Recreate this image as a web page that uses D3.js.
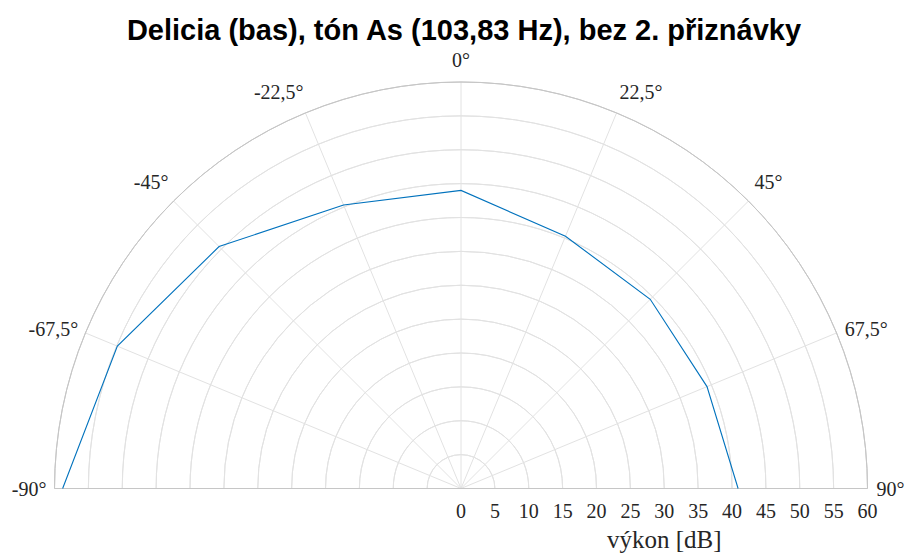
<!DOCTYPE html>
<html><head><meta charset="utf-8">
<script src="https://cdn.jsdelivr.net/npm/d3@7"></script>
<style>
html,body{margin:0;padding:0;background:#fff;}
svg{display:block;}
</style></head>
<body>
<svg id="chart" width="905" height="555"></svg>
<script>
// ---- data ----
const angles = [-90, -67.5, -45, -22.5, 0, 22.5, 45, 67.5, 90];          // degrees
const power  = [58.8, 54.9, 50.5, 45.3, 44.0, 40.3, 39.5, 39.3, 40.9];   // dB
const rTicks = [0, 5, 10, 15, 20, 25, 30, 35, 40, 45, 50, 55, 60];
const thetaTicks = [-90, -67.5, -45, -22.5, 0, 22.5, 45, 67.5, 90];
const thetaLabels = ["-90°", "-67,5°", "-45°", "-22,5°", "0°", "22,5°", "45°", "67,5°", "90°"];
const titleText = "Delicia (bas), tón As (103,83 Hz), bez 2. přiznávky";
const rLabel = "výkon [dB]";

// ---- layout ----
const cx = 461, cy = 488.5, R = 406.5;
const svg = d3.select("#chart");
const r = d3.scaleLinear().domain([0, 60]).range([0, R]);
const rad = d => d * Math.PI / 180;
const px = (deg, rr) => cx + rr * Math.sin(rad(deg));
const py = (deg, rr) => cy - rr * Math.cos(rad(deg));

const gridColor = "#e2e2e2", edgeColor = "#c6c6c6";
const g = svg.append("g");

// rings
const arc = d3.arc().startAngle(-Math.PI/2).endAngle(Math.PI/2);
g.selectAll("path.ring").data(rTicks.filter(t => t > 0 && t < 60)).join("path")
  .attr("class","ring")
  .attr("transform", `translate(${cx},${cy})`)
  .attr("d", d => arc({innerRadius: r(d), outerRadius: r(d)}))
  .attr("fill","none").attr("stroke", gridColor).attr("stroke-width",1);

// spokes
g.selectAll("line.spoke").data(thetaTicks.filter(t => Math.abs(t) < 90)).join("line")
  .attr("x1", cx).attr("y1", cy)
  .attr("x2", d => px(d, R)).attr("y2", d => py(d, R))
  .attr("stroke", gridColor).attr("stroke-width",1);

// edge: outer arc + baseline
g.append("path")
  .attr("transform", `translate(${cx},${cy})`)
  .attr("d", arc({innerRadius: R, outerRadius: R}))
  .attr("fill","none").attr("stroke", edgeColor).attr("stroke-width",1);
g.append("line")
  .attr("x1", px(-90, R)).attr("y1", cy).attr("x2", px(90, R)).attr("y2", cy)
  .attr("stroke", edgeColor).attr("stroke-width",1);

// data line
const line = d3.line()
  .x((d,i) => px(angles[i], r(power[i])))
  .y((d,i) => py(angles[i], r(power[i])));
g.append("path").datum(angles)
  .attr("d", line)
  .attr("fill","none").attr("stroke","#0072bd").attr("stroke-width",1.1);

// theta labels
const serif = "'Liberation Serif','Times New Roman',serif";
g.selectAll("text.th").data(thetaTicks).join("text")
  .attr("class","th")
  .attr("x", d => px(d, R + 10) + (d === 0 ? 0 : (d < 0 ? 2 : -1)))
  .attr("y", d => Math.abs(d) < 60 ? py(d, R + 10) - 5 : py(d, R + 10) + 7)
  .attr("text-anchor", d => d === 0 ? "middle" : (d < 0 ? "end" : "start"))
  .attr("font-family", serif).attr("font-size", 20).attr("fill","#262626")
  .text((d,i) => thetaLabels[i]);

// r tick labels
g.selectAll("text.rt").data(rTicks).join("text")
  .attr("class","rt")
  .attr("x", d => cx + r(d)).attr("y", cy + 29)
  .attr("text-anchor","middle")
  .attr("font-family", serif).attr("font-size", 20).attr("fill","#262626")
  .text(d => d);

// r axis label
svg.append("text")
  .attr("x", cx + R/2).attr("y", 548)
  .attr("text-anchor","middle")
  .attr("font-family", serif).attr("font-size", 25).attr("fill","#262626")
  .text(rLabel);

// title
svg.append("text")
  .attr("x", 464).attr("y", 40)
  .attr("text-anchor","middle")
  .attr("font-family","'Liberation Sans',Arial,sans-serif")
  .attr("font-weight","bold").attr("font-size", 29).attr("fill","#000")
  .text(titleText);
</script>
</body></html>
